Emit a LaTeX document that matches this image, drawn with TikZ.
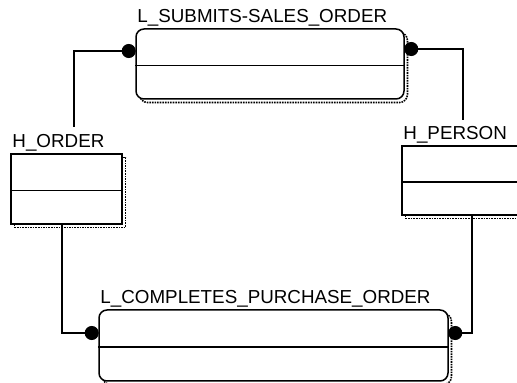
\documentclass[tikz,border=0pt]{standalone}
\usepackage{fontspec}
\setmainfont{Liberation Sans}
\usetikzlibrary{positioning,shadows}
\tikzset{
  hub/.style={rectangle, draw, fill=white, line width=1.5pt, minimum width=111pt, minimum height=70pt,
              drop shadow={shadow xshift=3.5pt, shadow yshift=-3.5pt, opacity=1, fill=none,
                           draw=black, line width=1.6pt, densely dotted}}, % dotted shadow
  link/.style={hub, rounded corners=8pt},
  title/.style={anchor=base west, inner sep=0pt, xshift=2pt, yshift=5.5pt, font=\fontsize{18.8}{22}\selectfont},
  blob/.style={circle, draw, fill=black, line width=1pt, inner sep=0pt, minimum size=13pt},
  conn/.style={line width=1.5pt},
}

\begin{document}
\begin{tikzpicture}[x=1pt, y=1pt]
  \useasboundingbox (0,0) rectangle (517,383);

  \node[link, minimum width=268pt, label={[title]north west:L\_SUBMITS-SALES\_ORDER}] (submits) at (270,319) {};
  \node[hub, label={[title]north west:H\_ORDER}] (order) at (66.5,194) {};
  \node[hub, minimum width=125pt, minimum height=69pt, label={[title]north west:H\_PERSON}] (person) at (464.5,202.5) {};
  \node[link, minimum width=349pt, minimum height=71pt, label={[title]north west:L\_COMPLETES\_PURCHASE\_ORDER}] (completes) at (273.5,37.5) {};

  \foreach \n in {submits, order, person, completes}
    \draw[conn] ([yshift=-1.5pt]\n.west) -- ([yshift=-1.5pt]\n.east);

  \node[blob] (dot1) at ([xshift=-6.5pt, yshift=13pt]submits.west) {};
  \node[blob] (dot2) at ([xshift=6.5pt, yshift=15pt]submits.east) {};
  \node[blob] (dot3) at ([xshift=-6.5pt, yshift=12.5pt]completes.west) {};
  \node[blob] (dot4) at ([xshift=6.5pt, yshift=12.5pt]completes.east) {};

  \coordinate (end1) at (74,256);
  \coordinate (end2) at (463,263);

  \draw[conn] (dot1) -| (end1);
  \draw[conn] (dot2) -| (end2);
  \draw[conn] ([xshift=-4.5pt]order.south) |- (dot3);
  \draw[conn] ([xshift=7.5pt]person.south) |- (dot4);

\end{tikzpicture}
\end{document}
